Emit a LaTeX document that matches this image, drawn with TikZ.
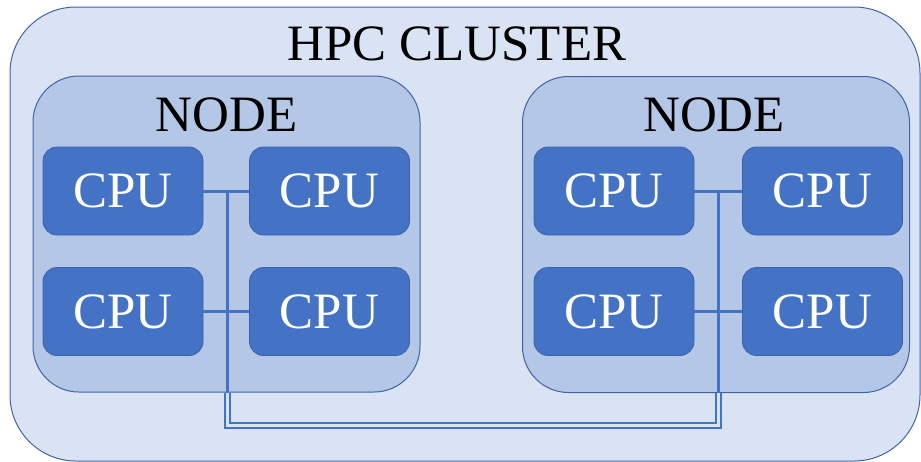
\documentclass[tikz,border=0pt]{standalone}
\usepackage{fontspec}
\setmainfont{Liberation Serif}
\definecolor{clusterfill}{HTML}{DAE3F3}
\definecolor{nodefill}{HTML}{B4C7E7}
\definecolor{cpufill}{HTML}{4472C4}
\definecolor{cpuedge}{HTML}{3A62AA}
\definecolor{boxedge}{HTML}{3F64A6}
\begin{document}
\begin{tikzpicture}[x=1pt,y=-1pt,
  cluster/.style={draw=boxedge, line width=1pt, fill=clusterfill, rounded corners=66pt,
    minimum width=910pt, minimum height=454pt, inner sep=0pt},
  hostbox/.style={draw=boxedge, line width=1pt, fill=nodefill, rounded corners=46pt,
    minimum width=387pt, minimum height=316pt, inner sep=0pt},
  cpubox/.style={draw=cpuedge, line width=0.8pt, fill=cpufill, rounded corners=14pt,
    minimum width=160pt, minimum height=88pt, inner sep=0pt, text=white,
    font=\fontsize{51}{60}\selectfont},
  title/.style={inner sep=0pt, anchor=base, font=\fontsize{51}{60}\selectfont},
  link/.style={draw=cpufill, line width=3pt},
  trunk/.style={draw=cpufill, line width=1.5pt, double=clusterfill, double distance=3.2pt, line join=miter}]
\useasboundingbox (0,0) rectangle (921,461);

% cluster and its two hosts
\node[cluster] (cluster) at (465,234) {};
\node[title] (clustertitle) at (457,60) {HPC CLUSTER};
\node[hostbox] (hostL) at (226.5,234) {};
\node[hostbox] (hostR) at (716,234.5) {};
\node[title] (titleL) at (226.5,131) {NODE};
\node[title] (titleR) at (714,131) {NODE};

% processors
\node[cpubox] (L1) at (123,191) {CPU};
\node[cpubox] (L2) at (329.5,191) {CPU};
\node[cpubox] (L3) at (123,311.5) {CPU};
\node[cpubox] (L4) at (329.5,311.5) {CPU};
\node[cpubox] (R1) at (614,191) {CPU};
\node[cpubox] (R2) at (822.5,191) {CPU};
\node[cpubox] (R3) at (614,311.5) {CPU};
\node[cpubox] (R4) at (822.5,311.5) {CPU};

% local buses inside each host
\coordinate (busL) at (227.5,191);
\coordinate (busR) at (718.5,191);
\draw[link] (L1.east) -- (L2.west);
\draw[link] (L3.east) -- (L4.west);
\draw[link] (R1.east) -- (R2.west);
\draw[link] (R3.east) -- (R4.west);
\draw[link] (busL) -- (busL |- hostL.south);
\draw[link] (busR) -- (busR |- hostR.south);

% interconnect between the hosts
\coordinate (cornerL) at (227.5,425.5);
\coordinate (cornerR) at (718.5,425.5);
\draw[trunk] (busL |- hostL.south) -- (cornerL) -- (cornerR) -- (busR |- hostR.south);
\end{tikzpicture}
\end{document}
